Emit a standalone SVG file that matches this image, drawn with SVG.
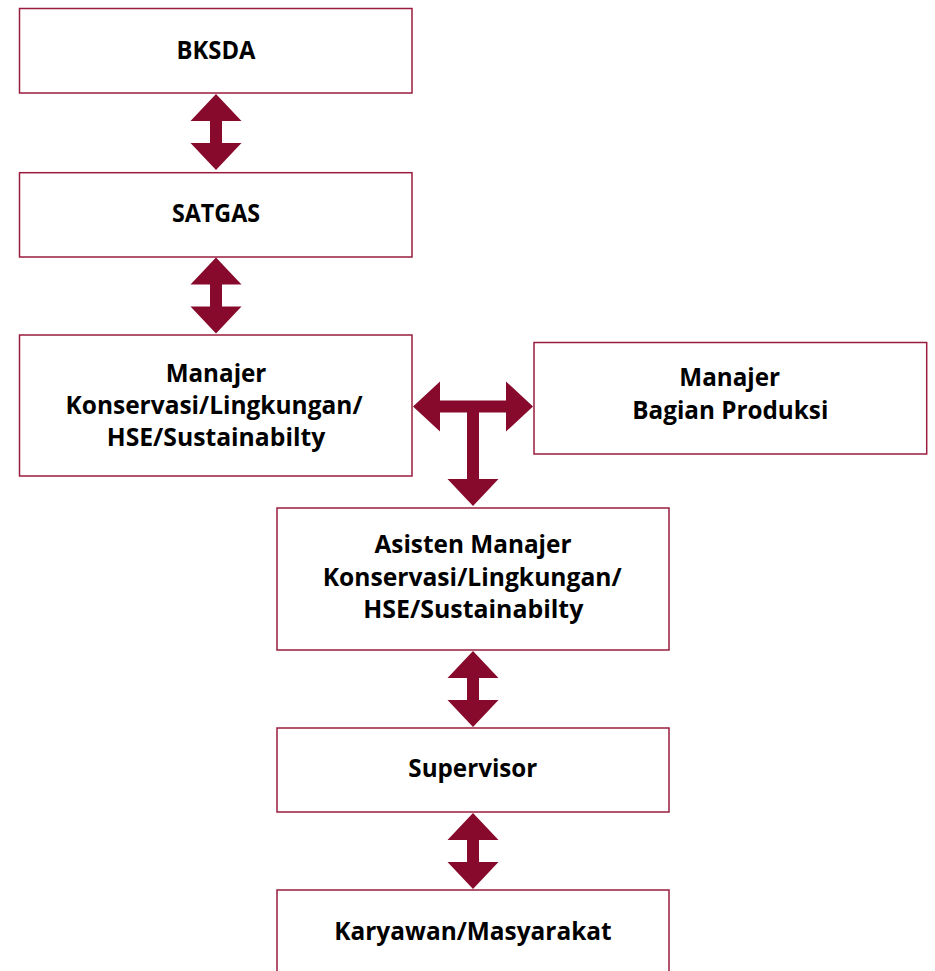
<svg xmlns="http://www.w3.org/2000/svg" width="935" height="971" viewBox="0 0 935 971">
<style>
.box{fill:#ffffff;stroke:#9a1c3e;stroke-width:1.5}
.lbl{font-family:"Open Sans","Noto Sans","Liberation Sans",sans-serif;font-weight:700;font-size:25px;fill:#000000;text-anchor:middle}
.arr{fill:#870a2c;stroke:none}
</style>
<defs>
<path id="dbl" d="M0,0 L25.5,27 L6,27 L6,49 L25.5,49 L0,76 L-25.5,49 L-6,49 L-6,27 L-25.5,27 Z"/>
</defs>
<rect width="935" height="971" fill="#ffffff"/>
<g id="connectors" class="arr">
<use href="#dbl" x="216" y="94"/>
<use href="#dbl" x="216" y="257.5"/>
<use href="#dbl" x="473" y="651"/>
<use href="#dbl" x="473" y="813"/>
<path d="M413,406.5 L440,381.5 L440,400.5 L506,400.5 L506,381.5 L533,406.5 L506,431.5 L506,412.5 L479,412.5 L479,479 L498.5,479 L473,506 L447.5,479 L467,479 L467,412.5 L440,412.5 L440,431.5 Z"/>
</g>
<g id="bksda">
<rect class="box" x="19.5" y="8.5" width="392.5" height="84.5"/>
<text class="lbl" x="216" y="59.3" textLength="79" lengthAdjust="spacingAndGlyphs">BKSDA</text>
</g>
<g id="satgas">
<rect class="box" x="19.5" y="172.7" width="392.5" height="84.3"/>
<text class="lbl" x="216" y="222.3" textLength="88" lengthAdjust="spacingAndGlyphs">SATGAS</text>
</g>
<g id="manajer-konservasi">
<rect class="box" x="19.5" y="335" width="392.5" height="141"/>
<text class="lbl" x="216" y="381.6" textLength="100.7" lengthAdjust="spacingAndGlyphs">Manajer</text>
<text class="lbl" x="214" y="414.2" textLength="297" lengthAdjust="spacingAndGlyphs">Konservasi/Lingkungan/</text>
<text class="lbl" x="216" y="445.5" textLength="218.5" lengthAdjust="spacingAndGlyphs">HSE/Sustainabilty</text>
</g>
<g id="manajer-produksi">
<rect class="box" x="534" y="342.5" width="392.7" height="111.5"/>
<text class="lbl" x="729.7" y="385.8" textLength="100.7" lengthAdjust="spacingAndGlyphs">Manajer</text>
<text class="lbl" x="730.3" y="418.5" textLength="196" lengthAdjust="spacingAndGlyphs">Bagian Produksi</text>
</g>
<g id="asisten-manajer">
<rect class="box" x="277" y="508" width="392" height="142"/>
<text class="lbl" x="473" y="553.3" textLength="197" lengthAdjust="spacingAndGlyphs">Asisten Manajer</text>
<text class="lbl" x="472.2" y="586" textLength="299" lengthAdjust="spacingAndGlyphs">Konservasi/Lingkungan/</text>
<text class="lbl" x="473.3" y="618.3" textLength="220" lengthAdjust="spacingAndGlyphs">HSE/Sustainabilty</text>
</g>
<g id="supervisor">
<rect class="box" x="277" y="728" width="392" height="84"/>
<text class="lbl" x="472.8" y="777.3" textLength="129" lengthAdjust="spacingAndGlyphs">Supervisor</text>
</g>
<g id="karyawan">
<rect class="box" x="277" y="890" width="392" height="100"/>
<text class="lbl" x="473" y="940" textLength="277.4" lengthAdjust="spacingAndGlyphs">Karyawan/Masyarakat</text>
</g>
</svg>
